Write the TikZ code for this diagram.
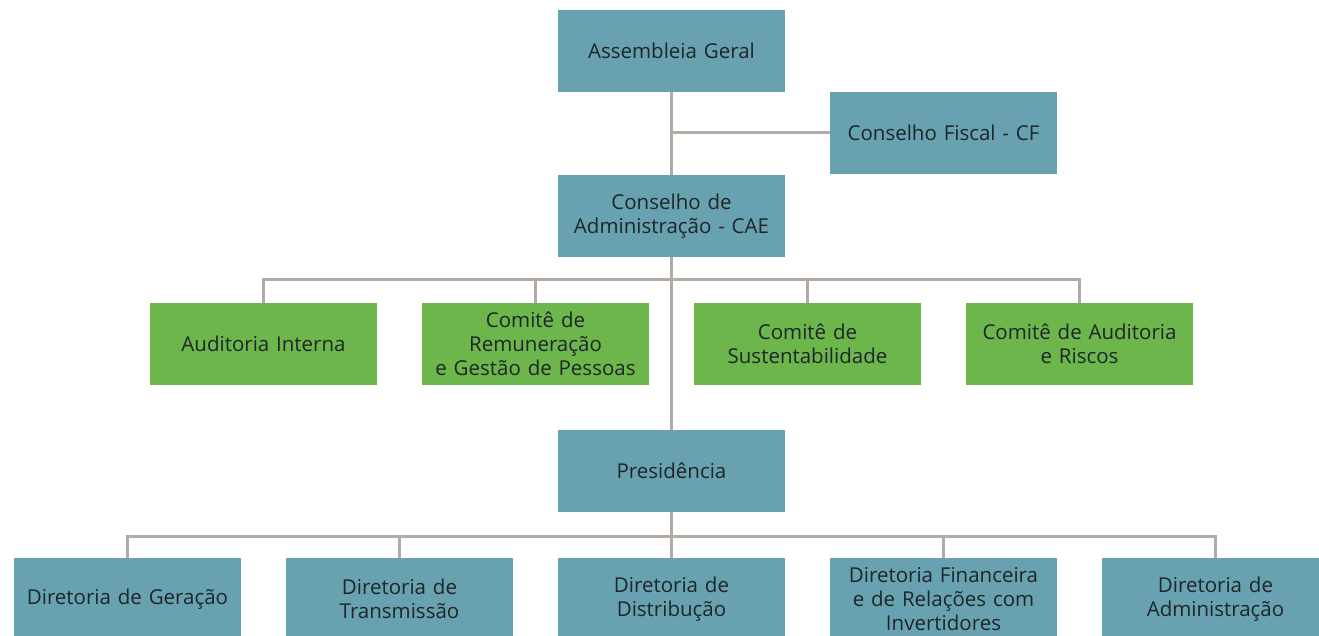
\documentclass[tikz,border=0pt]{standalone}
\usepackage{fontspec}
\setmainfont{Open Sans}
\usepackage{tikz}
\usetikzlibrary{calc}
\definecolor{petrol}{HTML}{68A1B0}
\definecolor{leaf}{HTML}{6CB64C}
\definecolor{wire}{HTML}{B3AAA3}
\definecolor{ink}{HTML}{1E2629}

\begin{document}
\begin{tikzpicture}[x=1pt,y=-1pt,
  box/.style={rectangle,fill=petrol,text=ink,minimum width=227pt,minimum height=82pt,text width=221pt,align=center,inner sep=0pt,font=\fontsize{20.5}{24}\selectfont},
  greenbox/.style={box,fill=leaf},
  conn/.style={draw=wire,line width=3pt}]
\useasboundingbox (0,0) rectangle (1319,636);
\node[box] (ag) at (671.5,51) {Assembleia Geral};
\node[box] (cf) at (943.5,133) {Conselho Fiscal - CF};
\node[box] (cae) at (671.5,216) {Conselho de\\Administração - CAE};
\node[greenbox] (ai) at (263.5,344) {Auditoria Interna};
\node[greenbox] (crg) at (535.5,344) {Comitê de\\Remuneração\\e Gestão de Pessoas};
\node[greenbox] (cs) at (807.5,344) {Comitê de\\Sustentabilidade};
\node[greenbox] (car) at (1079.5,344) {Comitê de Auditoria\\e Riscos};
\node[box] (pres) at (671.5,471) {Presidência};
\node[box] (dg) at (127.5,599) {Diretoria de Geração};
\node[box] (dt) at (399.5,599) {Diretoria de\\Transmissão};
\node[box] (dd) at (671.5,599) {Diretoria de\\Distribução};
\node[box] (df) at (943.5,599) {Diretoria Financeira\\e de Relações com\\Invertidores};
\node[box] (da) at (1215.5,599) {Diretoria de\\Administração};

\draw[conn] (ag) -- (cae);
\draw[conn] (ag.south |- cf.west) -- (cf.west);
\draw[conn] (cae) -- (pres);
\draw[conn] (ai.north) -- ++(0,-23) -| (car.north);
\draw[conn] (crg.north) -- ++(0,-23);
\draw[conn] (cs.north) -- ++(0,-23);
\draw[conn] (dg.north) -- ++(0,-21) -| (da.north);
\draw[conn] (dt.north) -- ++(0,-21);
\draw[conn] (dd.north) -- (pres.south);
\draw[conn] (df.north) -- ++(0,-21);
\end{tikzpicture}
\end{document}
